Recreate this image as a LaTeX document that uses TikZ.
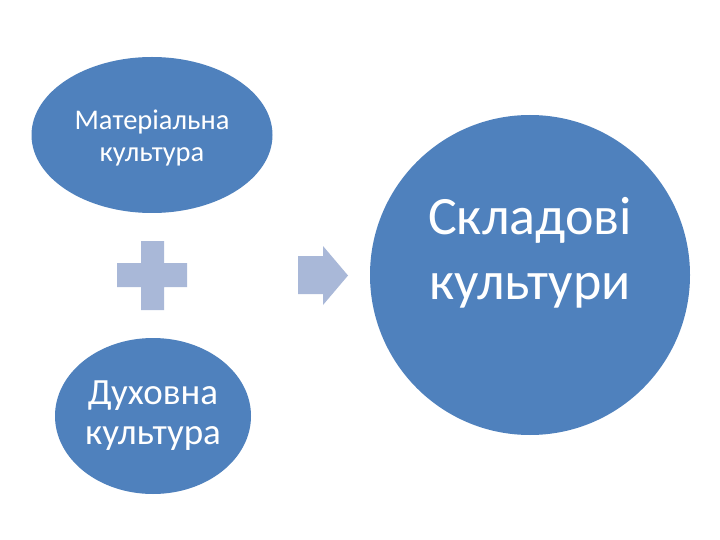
\documentclass[tikz,border=0pt]{standalone}
\usepackage{fontspec}
\setmainfont{Carlito}
\usetikzlibrary{shapes.geometric}
\definecolor{blobblue}{HTML}{4F81BD}
\definecolor{signblue}{HTML}{A9B8D8}
\tikzset{
  blob/.style={ellipse, fill=blobblue, draw=none, inner sep=0pt},
  blobtext/.style={text=white, align=center, inner sep=0pt}
}
\begin{document}
\begin{tikzpicture}[x=1pt,y=-1pt]
\useasboundingbox[fill=white] (0,0) rectangle (720,540);
\node[blob, minimum width=241pt, minimum height=156pt] (mat) at (152,135) {};
\node[blobtext, font=\fontsize{28.5}{32}\selectfont] (mattext) at (152,138) {Матеріальна\\культура};
\node[blob, minimum width=196pt, minimum height=156pt] (duh) at (153,416) {};
\node[blobtext, font=\fontsize{37}{40}\selectfont] (duhtext) at (153,416) {Духовна\\культура};
\node[circle, fill=blobblue, draw=none, minimum size=320pt, inner sep=0pt] (sk) at (530,275) {};
\node[blobtext, font=\fontsize{54}{65}\selectfont] (sktext) at (530,253) {Складові\\культури};
% plus sign
\path[fill=signblue] (141,241) -- (164,241) -- (164,263) -- (187,263) -- (187,287) -- (164,287) -- (164,310) -- (141,310) -- (141,287) -- (117,287) -- (117,263) -- (141,263) -- cycle;
% arrow
\path[fill=signblue] (298,256) -- (323,256) -- (323,246) -- (348,275.5) -- (323,305) -- (323,294) -- (298,294) -- cycle;
\end{tikzpicture}
\end{document}
